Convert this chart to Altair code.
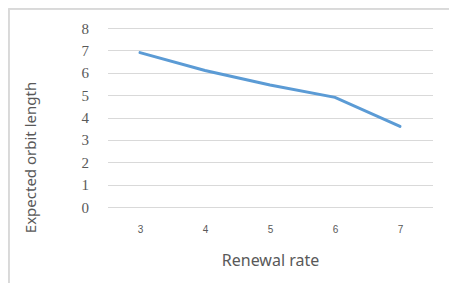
import altair as alt
import pandas as pd

rates = [3, 4, 5, 6, 7]
lengths = [6.9, 6.1, 5.45, 4.9, 3.6]

df = pd.DataFrame({"rate": rates, "length": lengths})

line = alt.Chart(df).mark_line(color="#5b9bd5", strokeWidth=3, strokeCap="round").encode(
    x=alt.X("rate:O", title="Renewal  rate",
            scale=alt.Scale(paddingInner=0, paddingOuter=0.5),
            axis=alt.Axis(labelAngle=0, labelFont="Liberation Sans", labelFontSize=10,
                          labelColor="#595959", labelPadding=17, domain=False, ticks=False,
                          titleFont="Noto Sans", titleFontSize=16, titleFontWeight="normal",
                          titleColor="#595959", titlePadding=18)),
    y=alt.Y("length:Q", title="Expected orbit  length",
            scale=alt.Scale(domain=[0, 8], nice=False),
            axis=alt.Axis(values=[0, 1, 2, 3, 4, 5, 6, 7, 8], labelFont="Liberation Serif",
                          labelFontSize=15, labelColor="#595959", labelPadding=19,
                          domain=False, ticks=False, gridColor="#d9d9d9", gridWidth=1,
                          titleFont="Noto Sans", titleFontSize=15, titleFontWeight="normal",
                          titleColor="#595959", titleX=-77, titleY=129,
                          titleAlign="center", titleBaseline="middle", titleAngle=-90)),
)

frame_left = alt.Chart(df).mark_rule(color="#d9d9d9", strokeWidth=1.5).encode(
    x=alt.value(-98.75), y=alt.value(-19.25), y2=alt.value(300))
frame_top = alt.Chart(df).mark_rule(color="#d9d9d9", strokeWidth=1.5).encode(
    x=alt.value(-98.75), x2=alt.value(400), y=alt.value(-19.25))

chart = alt.layer(frame_left, frame_top, line).properties(
    width=325, height=179,
    autosize=alt.AutoSizeParams(type="none"),
    padding={"left": 99.5, "top": 20, "right": 16, "bottom": 76},
).configure_view(stroke=None)

chart.save("out.html", embed_options={"renderer": "svg", "actions": False})
